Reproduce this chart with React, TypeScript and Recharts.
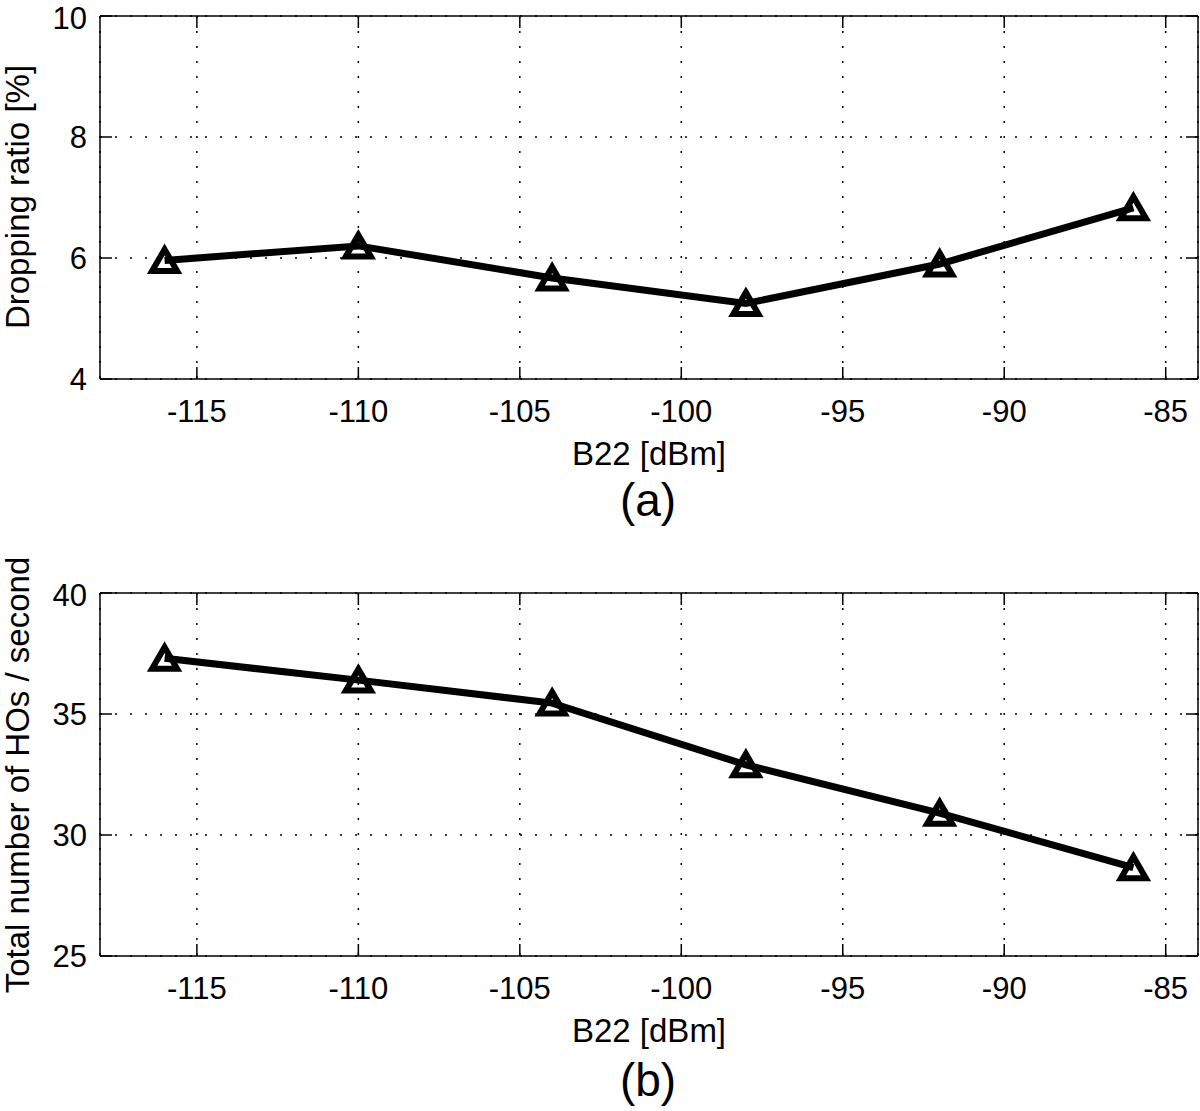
import React from 'react'
import { LineChart, Line, XAxis, YAxis, CartesianGrid } from 'recharts'

const FONT = '"Liberation Sans", Arial, Helvetica, sans-serif'

// B22 threshold values [dBm]
const b22Levels = [-116, -110, -104, -98, -92, -86]
// (a) dropping ratio [%]
const droppingRatio = [5.96, 6.2, 5.67, 5.25, 5.9, 6.83]
// (b) handovers per second
const handoverRate = [37.3, 36.4, 35.45, 32.9, 30.9, 28.65]

const xTicks = [-115, -110, -105, -100, -95, -90, -85]
const xDomain: [number, number] = [-118, -84]
const dropTicks = [4, 6, 8, 10]
const hoTicks = [25, 30, 35, 40]

const tickStyle = { fontSize: 31, fill: '#000', fontFamily: FONT }
const tickLineStyle = { stroke: '#000', strokeWidth: 1.5 }

const Triangle = (props: any) => {
  const { cx, cy, index } = props
  if (cx == null || cy == null) return <g key={index} />
  const d = `M${cx},${cy - 11} L${cx + 12.5},${cy + 10.5} L${cx - 12.5},${cy + 10.5} Z`
  return (
    <path
      key={index}
      d={d}
      fill="none"
      stroke="#000"
      strokeWidth={6}
      strokeLinejoin="miter"
    />
  )
}

const Empty = () => <g />

function Label({
  text,
  x,
  y,
  size,
  rotate,
}: {
  text: string
  x: number
  y: number
  size: number
  rotate?: boolean
}) {
  return (
    <div
      style={{
        position: 'absolute',
        left: x,
        top: y,
        fontFamily: FONT,
        fontSize: size,
        lineHeight: 1,
        whiteSpace: 'nowrap',
        color: '#000',
        transform: rotate
          ? 'translate(-50%, -50%) rotate(-90deg)'
          : 'translate(-50%, -50%)',
      }}
    >
      {text}
    </div>
  )
}

function Panel({
  values,
  yDomain,
  yTicks,
}: {
  values: number[]
  yDomain: [number, number]
  yTicks: number[]
}) {
  const data = b22Levels.map((x, i) => ({ x, y: values[i] }))
  return (
    <LineChart
      width={1200}
      height={470}
      data={data}
      margin={{ top: 14, right: 1, left: 20, bottom: 31 }}
    >
      <CartesianGrid stroke="#000" strokeWidth={1.5} strokeDasharray="2 13" />
      <XAxis
        dataKey="x"
        type="number"
        domain={xDomain}
        ticks={xTicks}
        height={60}
        tickSize={-12}
        tickMargin={33}
        tick={tickStyle}
        tickLine={tickLineStyle}
        stroke="#000"
        strokeWidth={1.5}
        allowDataOverflow
      />
      <XAxis
        xAxisId="top"
        orientation="top"
        dataKey="x"
        type="number"
        domain={xDomain}
        ticks={xTicks}
        height={2}
        tickSize={-12}
        tick={Empty}
        tickLine={tickLineStyle}
        stroke="#000"
        strokeWidth={1.5}
        allowDataOverflow
      />
      <YAxis
        type="number"
        domain={yDomain}
        ticks={yTicks}
        width={80}
        tickSize={-12}
        tickMargin={25}
        tick={tickStyle}
        tickLine={tickLineStyle}
        stroke="#000"
        strokeWidth={1.5}
        allowDataOverflow
      />
      <YAxis
        yAxisId="right"
        orientation="right"
        type="number"
        domain={yDomain}
        ticks={yTicks}
        width={1}
        tickSize={-12}
        tick={Empty}
        tickLine={tickLineStyle}
        stroke="#000"
        strokeWidth={1.5}
        allowDataOverflow
      />
      <Line
        type="linear"
        dataKey="y"
        stroke="#000"
        strokeWidth={7}
        dot={Triangle}
        activeDot={false}
        isAnimationActive={false}
      />
    </LineChart>
  )
}

export default function App() {
  return (
    <div
      style={{
        position: 'absolute',
        left: 0,
        top: 0,
        width: 1200,
        height: 1111,
        background: '#fff',
      }}
    >
      <div style={{ position: 'absolute', left: 0, top: 0 }}>
        <Panel values={droppingRatio} yDomain={[4, 10]} yTicks={dropTicks} />
      </div>
      <div style={{ position: 'absolute', left: 0, top: 577 }}>
        <Panel values={handoverRate} yDomain={[25, 40]} yTicks={hoTicks} />
      </div>
      <Label text="Dropping ratio [%]" x={17} y={197} size={33} rotate />
      <Label text="B22 [dBm]" x={649} y={453} size={33} />
      <Label text="(a)" x={648} y={500} size={46} />
      <Label text="Total number of HOs / second" x={17} y={775} size={33} rotate />
      <Label text="B22 [dBm]" x={649} y={1030} size={33} />
      <Label text="(b)" x={648} y={1080} size={46} />
    </div>
  )
}
